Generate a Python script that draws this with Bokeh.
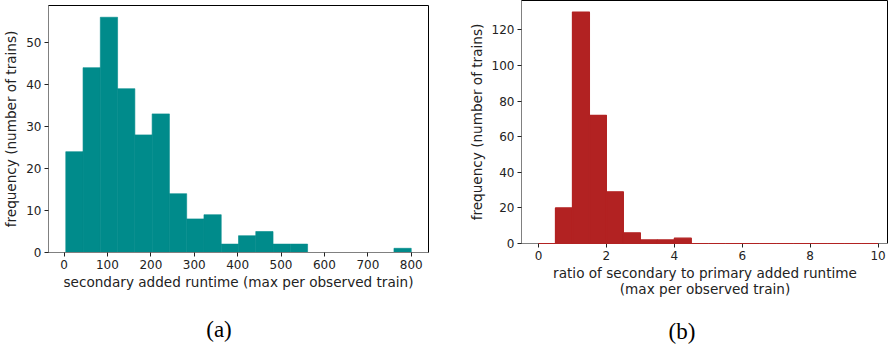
from bokeh.plotting import figure
from bokeh.layouts import row, column
from bokeh.models import Range1d, FixedTicker, Div
from bokeh.embed import file_html
from bokeh.resources import INLINE

# Histogram (a): secondary added runtime, 20 bins between 4 and 800
runtime_edges = [4, 43.8, 83.6, 123.4, 163.2, 203, 242.8, 282.6, 322.4, 362.2,
                 402, 441.8, 481.6, 521.4, 561.2, 601, 640.8, 680.6, 720.4, 760.2, 800]
runtime_counts = [24, 44, 56, 39, 28, 33, 14, 8, 9, 2,
                  4, 5, 2, 2, 0, 0, 0, 0, 0, 1]
runtime_ticks = [0, 100, 200, 300, 400, 500, 600, 700, 800]
freq_ticks_a = [0, 10, 20, 30, 40, 50]

# Histogram (b): ratio of secondary to primary added runtime, bins of 0.5 on [0, 10]
ratio_edges = [0, 0.5, 1, 1.5, 2, 2.5, 3, 3.5, 4, 4.5, 5,
               5.5, 6, 6.5, 7, 7.5, 8, 8.5, 9, 9.5, 10]
ratio_counts = [0, 20, 130, 72, 29, 6, 2, 2, 3, 0,
                0, 0, 0, 0, 0, 0, 0, 0, 0, 0]
ratio_ticks = [0, 2, 4, 6, 8, 10]
freq_ticks_b = [0, 20, 40, 60, 80, 100, 120]

TEAL = "#008b8b"
RED = "#b22222"
FONT = "DejaVu Sans"
PLOT_H = 305
CAPTION_H = 350 - PLOT_H


def style(p, xticks, yticks):
    p.outline_line_color = "black"
    p.outline_line_width = 1
    p.grid.visible = False
    for ax in (p.xaxis[0], p.yaxis[0]):
        ax.axis_line_color = "#808080"
        ax.major_tick_line_color = "#222222"
        ax.major_tick_in = 0
        ax.major_tick_out = 4
        ax.minor_tick_line_color = None
        ax.major_label_text_font = FONT
        ax.major_label_text_font_size = "12px"
        ax.major_label_text_color = "#222222"
        ax.axis_label_text_font = FONT
        ax.axis_label_text_font_size = "13.6px"
        ax.axis_label_text_font_style = "normal"
        ax.axis_label_text_color = "#222222"
        ax.axis_label_text_line_height = 1.0
        ax.major_label_standoff = 3
    p.xaxis[0].ticker = FixedTicker(ticks=xticks)
    p.yaxis[0].ticker = FixedTicker(ticks=yticks)
    p.xaxis[0].axis_label_standoff = 2
    p.yaxis[0].axis_label_standoff = 4


def caption(text, cx, cy):
    # sub-figure caption, centred at (cx, cy) inside its strip
    html = ("<div style=\"position:absolute; left:%dpx; top:%dpx; "
            "transform:translate(-50%%,-50%%); white-space:nowrap; "
            "font-family:'Liberation Serif'; font-size:23px; line-height:1; "
            "color:black;\">%s</div>" % (cx, cy, text))
    return Div(text=html, width=444, height=CAPTION_H,
               styles={"position": "relative", "margin": "0", "padding": "0"})


# ---- (a) ----
pa = figure(frame_width=380, frame_height=247,
            min_border_left=48, min_border_right=16,
            min_border_top=5, min_border_bottom=PLOT_H - 252,
            x_range=Range1d(-35.8, 839.8), y_range=Range1d(0, 58.8),
            output_backend="svg", toolbar_location=None)
pa.quad(left=runtime_edges[:-1], right=runtime_edges[1:],
        bottom=0, top=runtime_counts,
        fill_color=TEAL, line_color=TEAL, line_width=0.6)
pa.xaxis.axis_label = "secondary added runtime (max per observed train)"
pa.yaxis.axis_label = "frequency (number of trains)"
style(pa, runtime_ticks, freq_ticks_a)

# ---- (b) ----
pb = figure(frame_width=367, frame_height=243,
            min_border_left=77, min_border_right=0,
            min_border_top=0, min_border_bottom=PLOT_H - 243,
            x_range=Range1d(-0.5, 10.306), y_range=Range1d(0, 136.5),
            output_backend="svg", toolbar_location=None)
pb.quad(left=ratio_edges[:-1], right=ratio_edges[1:],
        bottom=0, top=ratio_counts,
        fill_color=RED, line_color=RED, line_width=1.2, level="overlay")
pb.xaxis.axis_label = "ratio of secondary to primary added runtime\n(max per observed train)"
pb.yaxis.axis_label = "frequency (number of trains)"
style(pb, ratio_ticks, freq_ticks_b)

layout = row(column(pa, caption("(a)", 219, 329 - PLOT_H), spacing=0),
             column(pb, caption("(b)", 682 - 444, 331 - PLOT_H), spacing=0),
             spacing=0)
open("out.html", "w").write(file_html(layout, INLINE))
